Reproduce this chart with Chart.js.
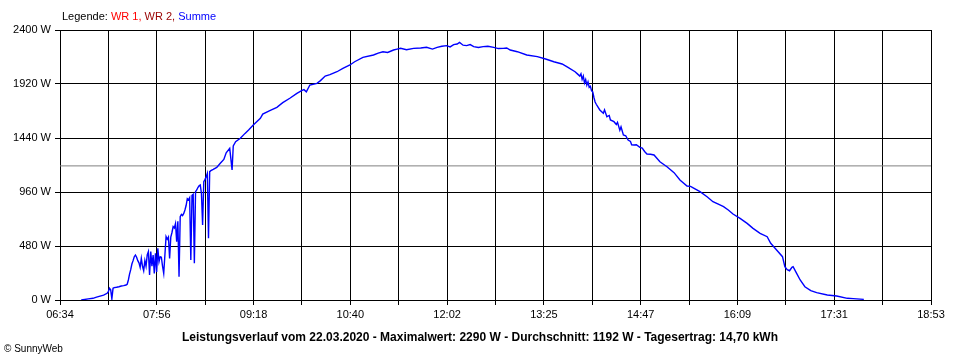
<!DOCTYPE html>
<html>
<head>
<meta charset="utf-8">
<script src="https://cdn.jsdelivr.net/npm/chart.js@4"></script>
<style>
  html, body { margin:0; padding:0; background:#fff; }
  #wrap { position:relative; width:960px; height:360px; overflow:hidden; font-family:"Liberation Sans", Arial, sans-serif; }
  canvas { position:absolute; left:0; top:0; }
  .txt { position:absolute; white-space:nowrap; color:#000; }
  #legend { left:62px; top:10px; font-size:11px; }
  #caption { left:0; width:960px; text-align:center; top:330px; font-size:12px; font-weight:bold; }
  #copy { left:4px; top:343px; font-size:10px; }
</style>
</head>
<body>
<div id="wrap">
  <canvas id="c" width="960" height="360"></canvas>
  <div id="legend" class="txt">Legende: <span style="color:#ff0000">WR 1,</span> <span style="color:#990000">WR 2,</span> <span style="color:#0000ff">Summe</span></div>
  <div id="caption" class="txt">Leistungsverlauf vom 22.03.2020 - Maximalwert: 2290 W - Durchschnitt: 1192 W - Tagesertrag: 14,70 kWh</div>
  <div id="copy" class="txt">© SunnyWeb</div>
</div>
<script>
const tickLabels = ["06:34","07:56","09:18","10:40","12:02","13:25","14:47","16:09","17:31","18:53"];
const yTicksMax = 2400;
const yStep = 480;
const averageWatt = 1192;

const times = [
"06:52","06:55","06:58","07:02","07:05","07:08","07:11","07:14","07:15","07:16","07:17","07:18","07:19","07:20","07:22","07:24","07:26","07:28",
"07:30","07:31","07:32","07:33","07:34","07:35","07:36","07:37","07:38","07:39","07:40","07:41","07:42","07:43","07:44","07:45","07:46","07:47","07:48","07:49",
"07:50","07:51","07:52","07:53","07:54","07:55","07:56","07:57","07:58","07:59","08:00","08:01","08:02","08:03","08:04","08:05","08:06","08:07","08:08","08:09",
"08:10","08:11","08:12","08:13","08:14","08:15","08:16","08:17","08:18","08:19","08:20","08:21","08:22","08:23","08:24","08:25","08:26","08:27","08:28","08:29",
"08:30","08:31","08:32","08:33","08:34","08:35","08:36","08:37","08:38","08:39","08:40","08:41","08:42",
"08:44","08:47","08:50","08:53","08:55","08:58","09:00","09:01","09:03","09:07","09:11","09:14","09:18","09:24","09:26","09:32","09:38","09:43","09:49","09:55",
"09:59","10:01","10:03","10:06","10:12","10:15","10:19","10:23","10:29","10:34","10:40","10:44","10:51","11:00","11:04","11:08","11:12","11:17","11:20","11:23",
"11:28","11:34","11:40","11:45","11:50","11:54","11:58","12:02","12:05","12:08","12:11","12:13","12:16","12:19","12:22","12:25","12:29","12:33","12:37","12:42",
"12:46","12:50","12:53","12:56","13:02","13:10","13:19","13:26","13:33","13:40","13:45","13:51","13:53","13:55","13:56","13:57","13:58","13:59","14:00","14:01",
"14:02","14:03","14:04","14:05","14:06","14:07","14:08","14:09","14:12","14:15","14:16","14:18","14:20","14:21","14:24","14:26","14:27","14:29","14:30","14:32",
"14:34","14:36","14:38","14:39","14:41","14:43","14:46","14:48","14:50","14:52","14:55","14:58","15:03","15:09","15:15","15:20","15:26","15:29","15:32","15:37",
"15:43","15:48","15:53","15:57","16:01","16:05","16:11","16:17","16:22","16:28","16:34","16:37","16:42","16:47","16:49","16:51","16:53","16:55","16:56","16:59",
"17:02","17:06","17:11","17:16","17:25","17:33","17:42","17:47","17:56"
];
const watts = [
0,5,10,15,25,35,44,60,74,104,90,10,104,110,113,118,124,128,
133,140,178,230,270,320,350,385,400,380,350,330,290,370,300,260,350,300,400,430,
222,430,300,400,237,415,250,459,340,385,380,300,237,400,563,540,560,370,560,600,
652,640,680,519,700,207,741,760,750,770,800,840,900,890,910,356,930,940,326,963,
978,1000,1015,1022,948,667,1052,1070,1096,1126,548,1141,1150,
1161,1179,1215,1250,1309,1348,1156,1369,1407,1437,1481,1511,1556,1615,1653,1683,1713,1754,1793,1837,
1861,1870,1850,1911,1926,1950,1991,2003,2029,2059,2089,2118,2157,2178,2195,2207,2200,2222,2230,2237,
2225,2237,2240,2246,2230,2246,2255,2261,2250,2270,2275,2290,2265,2261,2270,2252,2245,2252,2255,2246,
2235,2237,2240,2222,2207,2178,2163,2142,2118,2098,2068,2029,2010,1990,2010,1960,1990,1930,1960,1910,
1940,1890,1900,1860,1850,1800,1760,1740,1689,1660,1690,1629,1640,1600,1585,1560,1580,1510,1540,1467,
1460,1422,1410,1380,1378,1380,1357,1350,1320,1298,1295,1289,1229,1185,1132,1067,1013,1010,993,963,
918,874,850,830,800,764,726,681,637,593,563,504,444,385,296,270,260,290,296,237,
178,118,83,65,44,36,15,12,6
];

function toMin(t){ const [h,m]=t.split(':').map(Number); return h*60+m; }
const axisMin = toMin(tickLabels[0]);
const axisMax = toMin(tickLabels[tickLabels.length-1]);
const gridCount = (tickLabels.length-1)*2;

const font = { family: "'Liberation Sans', Arial, sans-serif", size: 11 };

new Chart(document.getElementById('c'), {
  type: 'line',
  data: {
    datasets: [
      { label:'Summe', data: times.map((t,i)=>({x:toMin(t), y:watts[i]})), borderColor:'#0000ff', borderWidth:1.4, pointRadius:0, tension:0, order:1 },
      { label:'Durchschnitt', data:[{x:axisMin,y:averageWatt},{x:axisMax,y:averageWatt}], borderColor:'#808080', borderWidth:1, pointRadius:0, order:2 }
    ]
  },
  options: {
    responsive:false, animation:false, devicePixelRatio:1,
    layout:{ padding:{ top:30, right:29, left:0, bottom:0 } },
    plugins:{ legend:{display:false}, tooltip:{enabled:false}, title:{display:false} },
    scales:{
      x:{
        type:'linear', min:axisMin, max:axisMax,
        afterBuildTicks: s => { const st=(axisMax-axisMin)/gridCount; s.ticks = Array.from({length:gridCount+1},(_,i)=>({value:axisMin+i*st})); },
        afterFit: s => { s.height = 60; },
        grid:{ color:'#000', lineWidth:1, tickLength:5, tickColor:'#000' },
        border:{ color:'#000', width:1 },
        ticks:{ font, color:'#000', padding:3, maxRotation:0, autoSkip:false, callback:(v,i)=> i%2===0 ? tickLabels[i/2] : '' }
      },
      y:{
        min:0, max:yTicksMax,
        afterFit: s => { s.width = 60; },
        grid:{ color:'#000', lineWidth:1, tickLength:5, tickColor:'#000' },
        border:{ color:'#000', width:1 },
        ticks:{ font, color:'#000', padding:4, stepSize:yStep, callback:v=> v+' W' }
      }
    }
  }
});
</script>
</body>
</html>
